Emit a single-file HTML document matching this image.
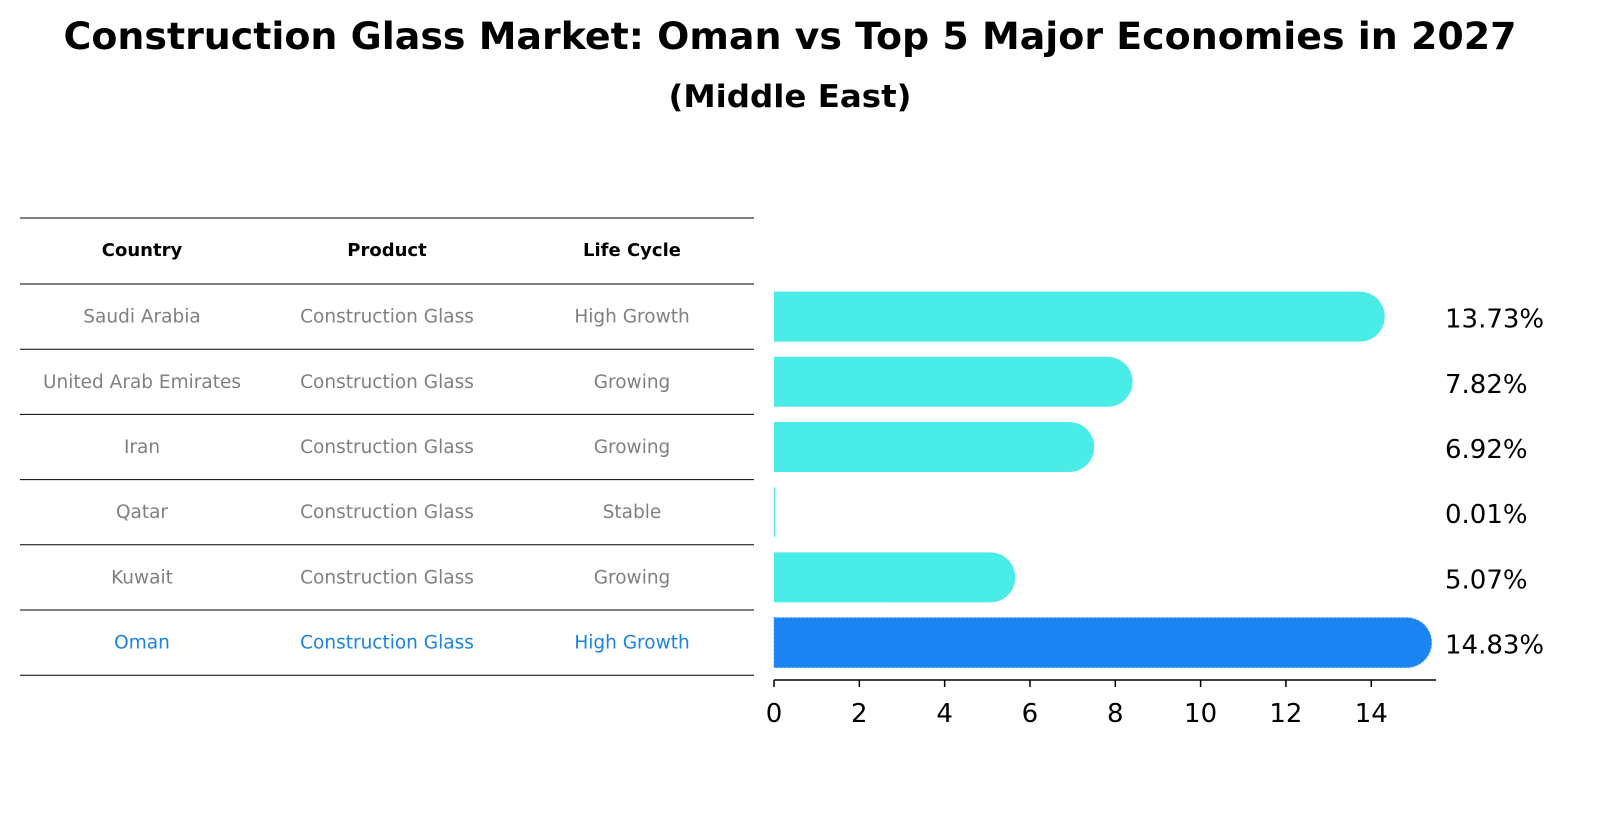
<!DOCTYPE html>
<html><head><meta charset="utf-8"><style>
html,body{margin:0;padding:0;background:#fff;overflow:hidden;width:1604px;height:823px;}
svg{display:block;}
</style></head><body>
<svg width="1604" height="823" viewBox="0 0 1604 823" xmlns="http://www.w3.org/2000/svg" font-family="DejaVu Sans, Liberation Sans, sans-serif">
<text x="790" y="49" text-anchor="middle" font-size="37" font-weight="bold" textLength="1453" lengthAdjust="spacingAndGlyphs">Construction Glass Market: Oman vs Top 5 Major Economies in 2027</text>
<text x="790" y="107" text-anchor="middle" font-size="31" font-weight="bold" textLength="243" lengthAdjust="spacingAndGlyphs">(Middle East)</text>
<g id="table"></g>
<g id="bars"></g>
<g id="axis"></g>
</svg>
<script>
const countries=["Saudi Arabia","United Arab Emirates","Iran","Qatar","Kuwait","Oman"];
const products=["Construction Glass","Construction Glass","Construction Glass","Construction Glass","Construction Glass","Construction Glass"];
const lifecycle=["High Growth","Growing","Growing","Stable","Growing","High Growth"];
const values=[13.73,7.82,6.92,0.01,5.07,14.83];
const ticks=[0,2,4,6,8,10,12,14];
const NS="http://www.w3.org/2000/svg";
const x0=774,ppu=42.66,rowTop=284,rowH=65.2,barH=50;
const xs=v=>x0+v*ppu;
const yc=i=>rowTop+rowH*(i+0.5);
function mk(tag,attrs,parent){const e=document.createElementNS(NS,tag);for(const k in attrs)e.setAttribute(k,attrs[k]);parent.appendChild(e);return e;}
const T=document.getElementById('table'),B=document.getElementById('bars'),A=document.getElementById('axis');
const colX=[142,387,632];
const hdr=["Country","Product","Life Cycle"];
hdr.forEach((h,j)=>{const t=mk('text',{x:colX[j],y:256,'text-anchor':'middle','font-size':18,'font-weight':'bold'},T);t.textContent=h;

});
for(let i=0;i<=countries.length+1;i++){const y=i==0?218:rowTop+rowH*(i-1);const l=mk('line',{x1:20,x2:754,y1:y,y2:y,stroke:'#000','stroke-width':1},T);

}
countries.forEach((c,i)=>{const col=i==countries.length-1?'#1a82e0':'#808080';
[c,products[i],lifecycle[i]].forEach((s,j)=>{const t=mk('text',{x:colX[j],y:yc(i)+6,'text-anchor':'middle','font-size':18.5,fill:col},T);t.textContent=s;

});
const v=values[i],y=yc(i)-barH/2,xe=xs(v),r=barH/2;
const fill=i==countries.length-1?'#1a84f2':'#4aece8';
let d;
if(v*ppu<1){d=`M${x0},${y}h${Math.max(xe-x0,1)}v${barH}h${-Math.max(xe-x0,1)}Z`;}
else d=`M${x0},${y}H${xe}A${r},${r} 0 0 1 ${xe},${y+barH}H${x0}Z`;
const p=mk('path',{d:d,fill:fill},B);
if(i==countries.length-1){p.setAttribute('stroke','#4aa0ff');p.setAttribute('stroke-dasharray','2,2');}


const t=mk('text',{x:1445,y:yc(i)+11,'font-size':26},B);t.textContent=v.toFixed(2)+'%';


});
mk('line',{x1:x0,x2:1436,y1:680,y2:680,stroke:'#000','stroke-width':1.5},A);
ticks.forEach(v=>{mk('line',{x1:xs(v),x2:xs(v),y1:680,y2:687,stroke:'#000','stroke-width':1.5},A);
const t=mk('text',{x:xs(v),y:722,'text-anchor':'middle','font-size':26},A);t.textContent=v;

});
</script>
</body></html>
